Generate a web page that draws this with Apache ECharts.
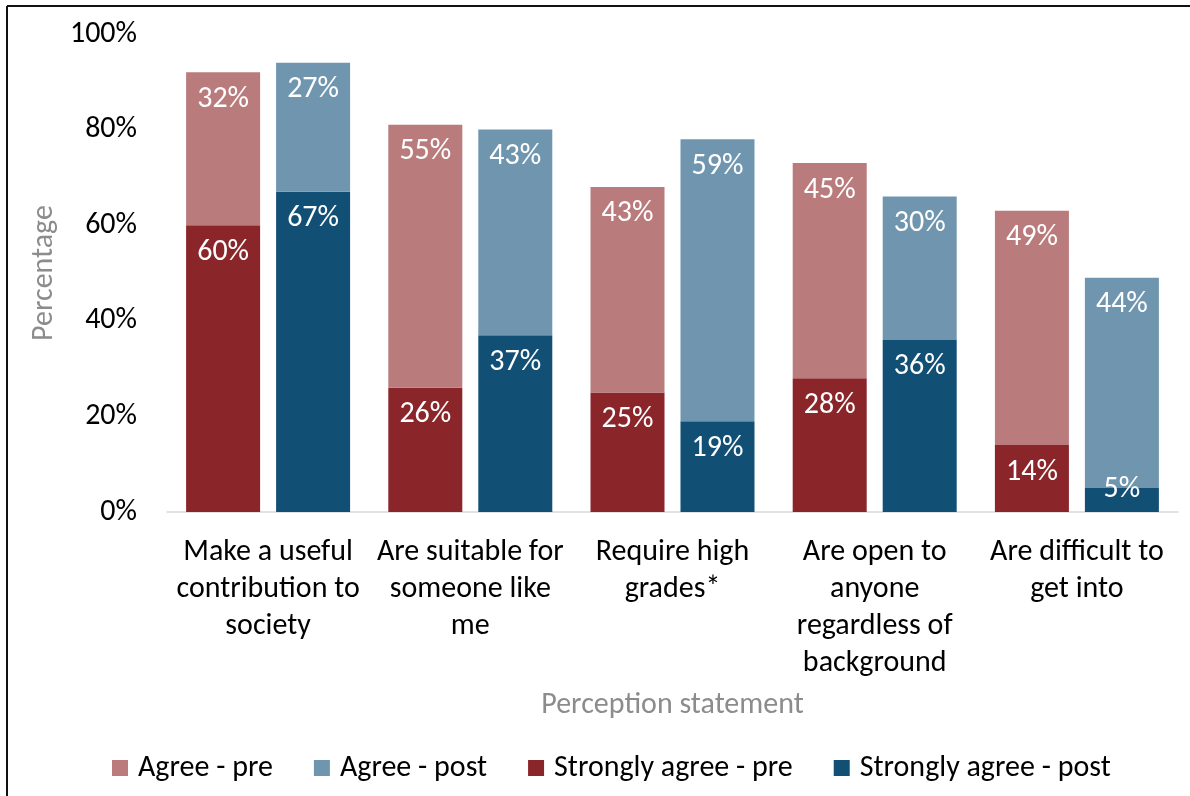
<!DOCTYPE html>
<html>
<head>
<meta charset="utf-8">
<title>Perception statements: pre vs post</title>
<script src="https://cdn.jsdelivr.net/npm/echarts@6/dist/echarts.min.js"></script>
<style>
  html, body { margin: 0; padding: 0; background: #ffffff; }
  #chart { width: 1190px; height: 796px; }
</style>
</head>
<body>
<div id="chart"></div>
<script>
// Perception statements (category axis)
const categories = [
  'Make a useful\ncontribution to\nsociety',
  'Are suitable for\nsomeone like\nme',
  'Require high\ngrades*',
  'Are open to\nanyone\nregardless of\nbackground',
  'Are difficult to\nget into'
];

// Percentages per statement
const stronglyAgreePre  = [60, 26, 25, 28, 14];
const agreePre          = [32, 55, 43, 45, 49];
const stronglyAgreePost = [67, 37, 19, 36, 5];
const agreePost         = [27, 43, 59, 30, 44];

const yTicks = [0, 20, 40, 60, 80, 100];

const FONT = 'Carlito, Lato, "Open Sans", sans-serif';
const BIG = 30;
const COLORS = {
  agreePre: '#B97B7C',
  agreePost: '#7096AF',
  strongPre: '#8A252A',
  strongPost: '#124F75'
};

const valueLabel = {
  show: true,
  position: 'insideTop',
  distance: 12,
  color: '#ffffff',
  fontFamily: FONT,
  fontSize: BIG,
  formatter: p => p.value + '%'
};

// Bars too short to hold their label get it centred near the bar's top edge
function toItems(values) {
  return values.map(v => v < 8
    ? { value: v, label: { position: 'inside', offset: [0, -11] } }
    : v);
}

function barSeries(name, stack, data, color) {
  return {
    name: name,
    type: 'bar',
    stack: stack,
    data: toItems(data),
    barWidth: 74,
    barGap: '21.6%',
    itemStyle: { color: color },
    label: valueLabel,
    emphasis: { disabled: true }
  };
}

const chart = echarts.init(document.getElementById('chart'), null, { renderer: 'canvas' });

chart.setOption({
  animation: false,
  backgroundColor: '#ffffff',
  textStyle: { fontFamily: FONT },
  graphic: [
    { type: 'line', shape: { x1: 7, y1: 6, x2: 1190, y2: 6 }, style: { stroke: '#111111', lineWidth: 2 } },
    { type: 'line', shape: { x1: 7, y1: 6, x2: 7, y2: 796 }, style: { stroke: '#111111', lineWidth: 2 } }
  ],
  grid: { left: 167, right: 12, top: 34, bottom: 284, containLabel: false },
  legend: {
    left: 107,
    top: 748,
    itemWidth: 16,
    itemHeight: 16,
    itemGap: 41,
    icon: 'rect',
    textStyle: { fontFamily: FONT, fontSize: BIG, color: '#000000', padding: [0, 0, 0, 5] },
    data: ['Agree - pre', 'Agree - post', 'Strongly agree - pre', 'Strongly agree - post']
  },
  xAxis: {
    type: 'category',
    data: categories,
    name: 'Perception statement',
    nameLocation: 'middle',
    nameGap: 178,
    nameTextStyle: { fontFamily: FONT, fontSize: BIG, color: '#8c8c8c' },
    axisLine: { lineStyle: { color: '#d9d9d9', width: 1.5 } },
    axisTick: { show: false },
    axisLabel: {
      fontFamily: FONT,
      fontSize: BIG,
      color: '#000000',
      lineHeight: 37,
      margin: 22,
      interval: 0
    }
  },
  yAxis: {
    type: 'value',
    min: 0,
    max: 100,
    interval: 20,
    name: 'Percentage',
    nameLocation: 'middle',
    nameGap: 103,
    nameTextStyle: { fontFamily: FONT, fontSize: BIG, color: '#8c8c8c' },
    axisLine: { show: false },
    axisTick: { show: false },
    splitLine: { show: false },
    axisLabel: {
      fontFamily: FONT,
      fontSize: BIG,
      color: '#000000',
      margin: 30,
      formatter: v => (yTicks.indexOf(v) >= 0 ? v + '%' : '')
    }
  },
  series: [
    barSeries('Strongly agree - pre', 'pre', stronglyAgreePre, COLORS.strongPre),
    barSeries('Agree - pre', 'pre', agreePre, COLORS.agreePre),
    barSeries('Strongly agree - post', 'post', stronglyAgreePost, COLORS.strongPost),
    barSeries('Agree - post', 'post', agreePost, COLORS.agreePost)
  ]
});
</script>
</body>
</html>
